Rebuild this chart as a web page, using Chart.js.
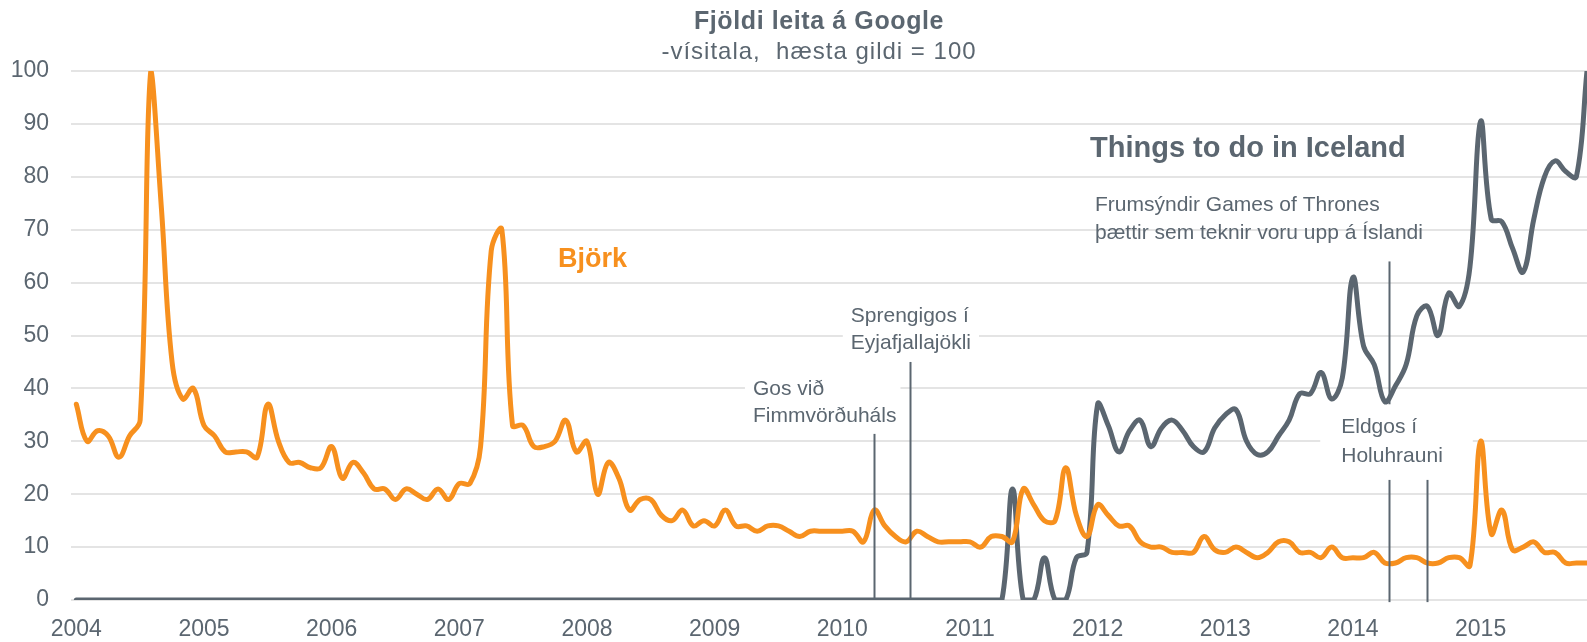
<!DOCTYPE html>
<html>
<head>
<meta charset="utf-8">
<script src="https://cdn.jsdelivr.net/npm/chart.js@4.4.1/dist/chart.umd.min.js"></script>
<style>
html,body{margin:0;padding:0;background:#fff;}
#wrap{width:1587px;height:642px;position:relative;}
</style>
</head>
<body>
<div id="wrap"><canvas id="c" width="1587" height="642"></canvas></div>
<script>
// ---------- DATA ----------
const yearLabels = ['2004','2005','2006','2007','2008','2009','2010','2011','2012','2013','2014','2015'];
const yTicks = [0,10,20,30,40,50,60,70,80,90,100];

// Björk – monthly index, Jan 2004 .. Nov 2015
const bjork = [
  37,30,32,31,27,31,34,100,74,45,38,40,
  33,31,28,28,28,27,37,30,26,26,25,25,
  29,23,26,24,21,21,19,21,20,19,21,19,
  22,22,29,66,70,33,33,29,29,30,34,28,
  30,20,26,23,17,19,19,16,15,17,14,15,
  14,17,14,14,13,14,14,13,12,13,13,13,
  13,13,11,17,14,12,11,13,12,11,11,11,
  11,10,12,12,11,21,18,15,15,25,16,12,
  18,16,14,14,11,10,10,9,9,9,12,9.5,
  9,10,9,8,9,11,11,9,9,8,10,8,
  8,8,9,7,7,8,8,7,7,8,8,6.5,
  30,12.5,17,9.5,10,11,9,9,7,7,7
];

// Things to do in Iceland – monthly index, Jan 2004 .. Nov 2015
const iceland = [
  0,0,0,0,0,0,0,0,0,0,0,0,
  0,0,0,0,0,0,0,0,0,0,0,0,
  0,0,0,0,0,0,0,0,0,0,0,0,
  0,0,0,0,0,0,0,0,0,0,0,0,
  0,0,0,0,0,0,0,0,0,0,0,0,
  0,0,0,0,0,0,0,0,0,0,0,0,
  0,0,0,0,0,0,0,0,0,0,0,0,
  0,0,0,0,21,0,0,8,0,0,8,9,
  37,33,28,32,34,29,32.5,34,32,29,28,32.5,
  35,36,30,27.5,28,31,34,39,39,43,38,42,
  61,48,44.5,37.5,40.5,44.5,53.7,55.5,50,58,55.5,63,
  90.5,72,71.5,66.5,62,72,80,83,81,80,100
];

// Event markers (month index from Jan 2004, value range of the marker line)
const eventIndex = [75.0, 78.4, 123.4, 123.4, 127.0];
const eventFrom  = [0, 0, 37, -0.4, -0.4];
const eventTo    = [31.4, 45, 64, 22.7, 22.7];

const seriesNames = ['Björk', 'Things to do in Iceland'];
const titleText = 'Fjöldi leita á Google';
const subtitleText = '-vísitala,  hæsta gildi = 100';

// ---------- STYLE ----------
const ORANGE = '#f7901e';
const GRAY = '#5b6670';
const FONT = '"Liberation Sans", Arial, Helvetica, sans-serif';

const notes = [
  {lines:[seriesNames[0]], i:45.28, v:[64.3], font:'bold 27px', color:ORANGE},
  {lines:[seriesNames[1]], i:95.28, v:[85.2], font:'bold 29px', color:GRAY},
  {lines:['Frumsýndir Games of Thrones','þættir sem teknir voru upp á Íslandi'], i:95.75, v:[74.7,69.4], font:'21px', color:GRAY},
  {lines:['Gos við','Fimmvörðuháls'], i:63.6, v:[39.9,34.8], font:'21px', color:GRAY, box:[8,4]},
  {lines:['Sprengigos í','Eyjafjallajökli'], i:72.8, v:[53.6,48.6], font:'21px', color:GRAY, box:[8,8]},
  {lines:['Eldgos í','Holuhrauni'], i:118.9, v:[32.7,27.2], font:'21px', color:GRAY, box:[21,30]}
];

const notesPlugin = {
  id: 'notes',
  beforeDatasetsDraw(chart) {
    const {ctx} = chart;
    const xs = chart.scales.x, ys = chart.scales.y;
    ctx.save();
    notes.forEach(n => {
      if (!n.box) return;
      ctx.font = n.font + ' ' + FONT;
      const w = Math.max(...n.lines.map(l => ctx.measureText(l).width));
      const x = xs.getPixelForValue(n.i);
      const y1 = ys.getPixelForValue(n.v[0]) - 14;
      const y2 = ys.getPixelForValue(n.v[n.v.length-1]) + 14;
      ctx.fillStyle = '#ffffff';
      ctx.fillRect(x - n.box[0], y1, w + n.box[0] + n.box[1], y2 - y1);
    });
    ctx.restore();
  },
  afterDatasetsDraw(chart) {
    const {ctx} = chart;
    const xs = chart.scales.x, ys = chart.scales.y;
    ctx.save();
    // marker lines
    ctx.strokeStyle = GRAY;
    ctx.lineWidth = 2;
    eventIndex.forEach((ix, k) => {
      const x = Math.round(xs.getPixelForValue(ix)) + 0.5;
      ctx.beginPath();
      ctx.moveTo(x, ys.getPixelForValue(eventFrom[k]));
      ctx.lineTo(x, ys.getPixelForValue(eventTo[k]));
      ctx.stroke();
    });
    // notes
    ctx.textAlign = 'left';
    ctx.textBaseline = 'middle';
    notes.forEach(n => {
      ctx.font = n.font + ' ' + FONT;
      ctx.fillStyle = n.color;
      const x = xs.getPixelForValue(n.i);
      n.lines.forEach((l, k) => ctx.fillText(l, x, ys.getPixelForValue(n.v[k])));
    });
    // title + subtitle
    ctx.textAlign = 'center';
    ctx.fillStyle = GRAY;
    try { ctx.letterSpacing = '0.6px'; } catch(e) {}
    ctx.font = 'bold 25px ' + FONT;
    ctx.fillText(titleText, 819, 22);
    try { ctx.letterSpacing = '1px'; } catch(e) {}
    ctx.font = '24px ' + FONT;
    ctx.fillText(subtitleText, 819, 52);
    try { ctx.letterSpacing = '0px'; } catch(e) {}
    ctx.restore();
  }
};

Chart.defaults.font.family = FONT;
Chart.defaults.color = GRAY;

new Chart(document.getElementById('c'), {
  type: 'line',
  data: {
    datasets: [
      {
        label: seriesNames[0],
        data: bjork.map((v, i) => ({x: i, y: v})),
        borderColor: ORANGE,
        backgroundColor: ORANGE,
        borderWidth: 5,
        pointRadius: 0,
        tension: 0.4,
        borderCapStyle: 'round',
        borderJoinStyle: 'round',
        fill: false
      },
      {
        label: seriesNames[1],
        data: iceland.map((v, i) => ({x: i, y: v})),
        borderColor: GRAY,
        backgroundColor: GRAY,
        borderWidth: 5,
        pointRadius: 0,
        tension: 0.4,
        borderCapStyle: 'round',
        borderJoinStyle: 'round',
        fill: false
      }
    ]
  },
  options: {
    responsive: false,
    animation: false,
    events: [],
    devicePixelRatio: 1,
    layout: { padding: { top: 71, right: 0, left: 0, bottom: 0 } },
    plugins: {
      legend: { display: false },
      tooltip: { enabled: false },
      title: { display: false }
    },
    scales: {
      x: {
        type: 'linear',
        min: -0.5,
        max: 142,
        grid: { display: false, drawTicks: false },
        border: { display: false },
        afterBuildTicks: (s) => { s.ticks = yearLabels.map((y, k) => ({ value: k * 12 })); },
        afterFit: (s) => { s.height = 42; },
        ticks: {
          autoSkip: false,
          maxRotation: 0,
          padding: 16,
          color: GRAY,
          font: { size: 23 },
          callback: (v, idx) => yearLabels[idx]
        }
      },
      y: {
        min: 0,
        max: 100,
        afterBuildTicks: (s) => { s.ticks = yTicks.map(t => ({ value: t })); },
        afterFit: (s) => { s.width = 71; },
        grid: { color: '#e4e4e4', lineWidth: 2, drawTicks: false },
        border: { display: false },
        ticks: {
          padding: 22,
          color: GRAY,
          font: { size: 23 },
          callback: (v) => String(v)
        }
      }
    }
  },
  plugins: [notesPlugin]
});
</script>
</body>
</html>
